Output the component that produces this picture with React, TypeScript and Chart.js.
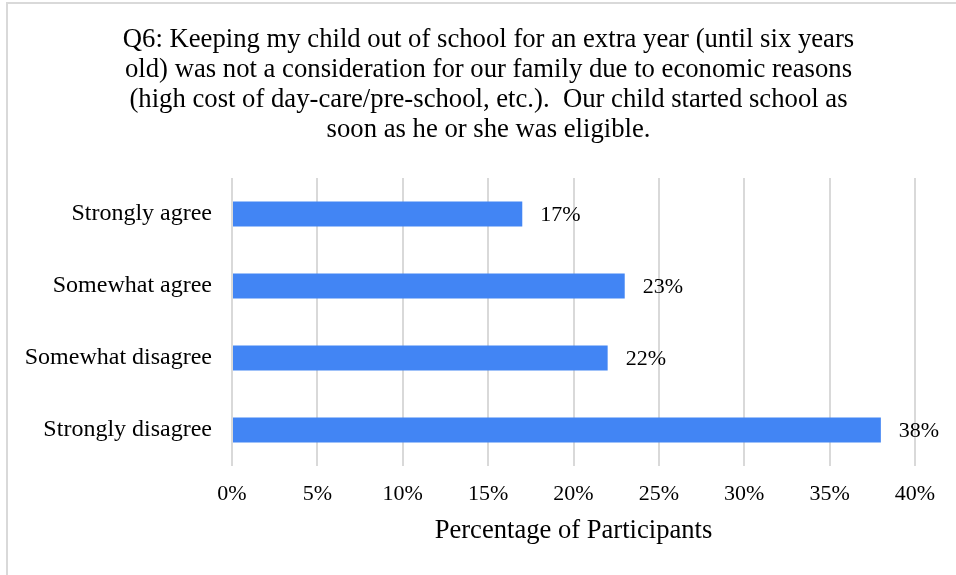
import React, { useEffect, useRef } from "react";
import { Chart, registerables } from "chart.js";

Chart.register(...registerables);

const titleLines = [
  "Q6: Keeping my child out of school for an extra year (until six years",
  "old) was not a consideration for our family due to economic reasons",
  "(high cost of day-care/pre-school, etc.).  Our child started school as",
  "soon as he or she was eligible.",
];
const categories = ["Strongly agree", "Somewhat agree", "Somewhat disagree", "Strongly disagree"];
const values = [17, 23, 22, 38];
const xTicks = [0, 5, 10, 15, 20, 25, 30, 35, 40];
const axisTitle = "Percentage of Participants";

const FONT = "'Liberation Serif', 'Times New Roman', serif";

const dataLabels = {
  id: "dataLabels",
  afterDatasetsDraw(chart: any) {
    const ctx = chart.ctx;
    const meta = chart.getDatasetMeta(0);
    ctx.save();
    ctx.font = `22px ${FONT}`;
    ctx.fillStyle = "#000";
    ctx.textAlign = "left";
    ctx.textBaseline = "middle";
    meta.data.forEach((bar: any, i: number) => {
      ctx.fillText(`${values[i]}%`, bar.x + 18, bar.y + 1);
    });
    ctx.restore();
  },
};

const chartTitle = {
  id: "chartTitle",
  afterDraw(chart: any) {
    const ctx = chart.ctx;
    ctx.save();
    ctx.font = `26.7px ${FONT}`;
    ctx.fillStyle = "#000";
    ctx.textAlign = "center";
    ctx.textBaseline = "alphabetic";
    titleLines.forEach((line, i) => {
      ctx.fillText(line, 488.5, 46.5 + i * 30.1);
    });
    ctx.restore();
  },
};

export default function App() {
  const ref = useRef<HTMLCanvasElement | null>(null);
  useEffect(() => {
    if (!ref.current) return;
    const chart = new Chart(ref.current, {
      type: "bar",
      data: {
        labels: categories,
        datasets: [
          {
            data: values,
            backgroundColor: "#4285F4",
            barPercentage: 0.35,
            categoryPercentage: 1,
          },
        ],
      },
      plugins: [dataLabels, chartTitle],
      options: {
        indexAxis: "y",
        animation: false,
        responsive: false,
        devicePixelRatio: 1,
        layout: { padding: { left: 0, right: 41, top: 178, bottom: 0 } },
        plugins: {
          legend: { display: false },
          tooltip: { enabled: false },
          title: { display: false },
        },
        scales: {
          x: {
            min: 0,
            max: 40,
            afterBuildTicks(scale: any) {
              scale.ticks = xTicks.map((v) => ({ value: v }));
            },
            afterFit(scale: any) {
              scale.height = 109;
            },
            grid: { color: "#d9d9d9", lineWidth: 2, drawTicks: false },
            border: { display: false },
            ticks: {
              color: "#000",
              font: { family: FONT, size: 22 },
              padding: 15,
              callback: (v: any) => `${v}%`,
            },
            title: {
              display: true,
              text: axisTitle,
              color: "#000",
              font: { family: FONT, size: 26.6 },
              padding: { top: 0, bottom: 28 },
            },
          },
          y: {
            afterFit(scale: any) {
              scale.width = 232;
            },
            grid: { display: false, drawTicks: false },
            border: { display: false },
            ticks: {
              color: "#000",
              font: { family: FONT, size: 24 },
              padding: 20,
            },
          },
        },
      },
    });
    return () => chart.destroy();
  }, []);
  return (
    <div style={{ position: "fixed", left: 0, top: 0, width: 956, height: 575, overflow: "hidden", background: "#fff" }}>
      <div
        style={{
          position: "absolute",
          left: 6,
          top: 2,
          width: 1000,
          height: 1000,
          borderLeft: "2px solid #d9d9d9",
          borderTop: "2px solid #d9d9d9",
        }}
      />
      <canvas ref={ref} width={956} height={575} style={{ position: "absolute", left: 0, top: 0, width: 956, height: 575 }} />
    </div>
  );
}
